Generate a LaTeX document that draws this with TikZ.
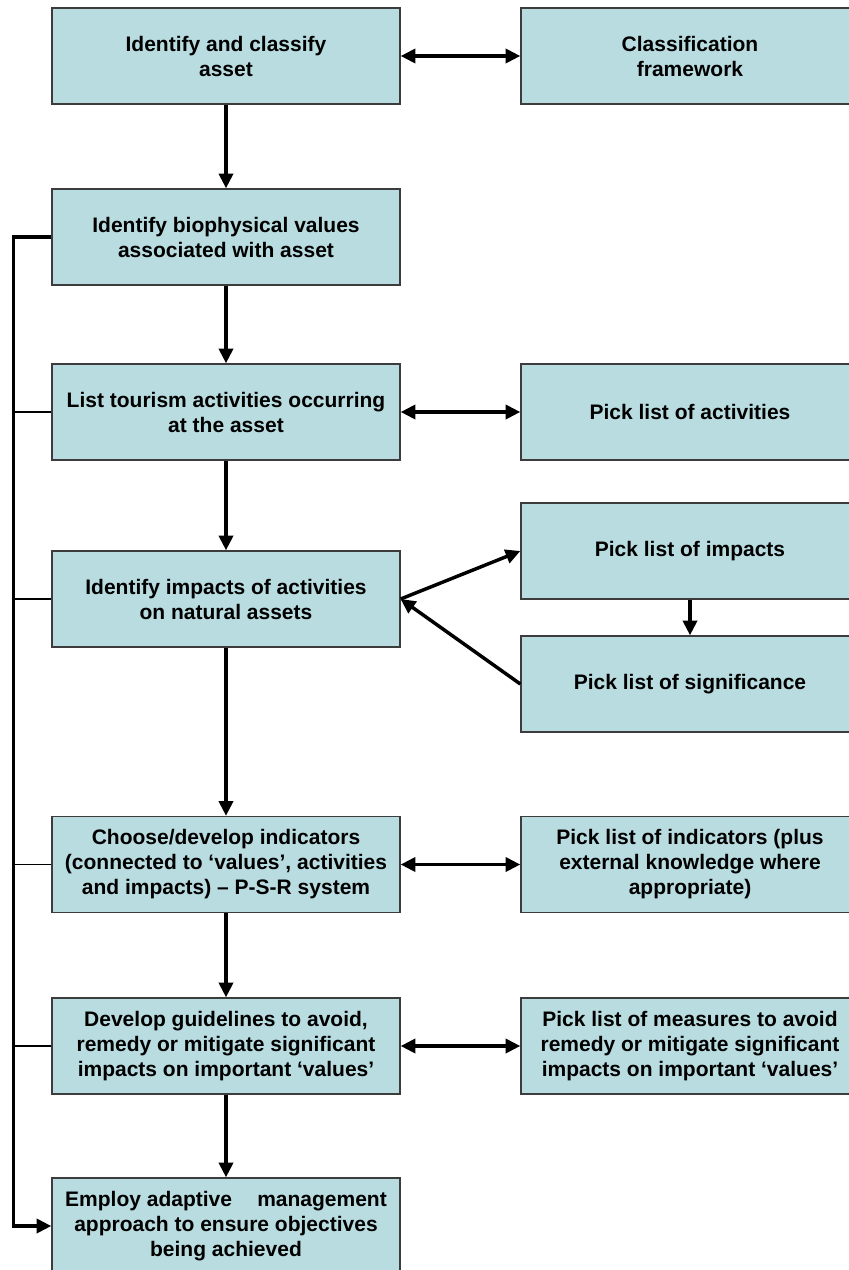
\documentclass[tikz,border=0pt]{standalone}
\usepackage{fontspec}
\setmainfont{Liberation Sans}
\usetikzlibrary{arrows.meta}
\definecolor{boxfill}{RGB}{184,220,224}
\definecolor{boxline}{RGB}{60,60,60}
\begin{document}
\begin{tikzpicture}[x=0.75pt,y=-0.75pt,
  stepbox/.style={draw=boxline, line width=1pt, fill=boxfill, align=center,
    inner sep=0pt, minimum height=96*0.75pt,
    font=\bfseries\fontsize{15.75pt}{18.75pt}\selectfont},
  leftbox/.style={stepbox, minimum width=348*0.75pt},
  rightbox/.style={stepbox, minimum width=338*0.75pt},
  tip/.tip={Triangle[length=11pt,width=10.5pt]},
  flow/.style={line width=2.6pt, -tip},
  both/.style={line width=2.6pt, tip-tip},
  tick/.style={line width=0.8pt}
]
\useasboundingbox (0,0) rectangle (849,1270);
\clip (0,0) rectangle (849,1270);

% main column
\node[leftbox] (ident)   at (226,56)   {Identify and classify\\asset};
\node[leftbox] (bio)     at (226,237)  {Identify biophysical values\\associated with asset};
\node[leftbox] (list)    at (226,412)  {List tourism activities occurring\\at the asset};
\node[leftbox] (impacts) at (226,599)  {Identify impacts of activities\\on natural assets};
\node[leftbox] (choose)  at (226,864.5){Choose/develop indicators\\(connected to ‘values’, activities\\and impacts) – P-S-R system};
\node[leftbox] (develop) at (226,1046) {Develop guidelines to avoid,\\remedy or mitigate significant\\impacts on important ‘values’};
\node[leftbox] (employ)  at (226,1226) {Employ adaptive\hspace{1.2em}management\\approach to ensure objectives\\being achieved};

% pick lists
\node[rightbox] (classfw)  at (690,56)    {Classification\\framework};
\node[rightbox] (pickact)  at (690,412)   {Pick list of activities};
\node[rightbox] (pickimp)  at (690,551)   {Pick list of impacts};
\node[rightbox] (picksig)  at (690,684)   {Pick list of significance};
\node[rightbox] (pickind)  at (690,864.5) {Pick list of indicators (plus\\external knowledge where\\appropriate)};
\node[rightbox] (pickmeas) at (690,1046)  {Pick list of measures to avoid\\remedy or mitigate significant\\impacts on important ‘values’};

% main flow
\draw[flow] (ident)   -- (bio);
\draw[flow] (bio)     -- (list);
\draw[flow] (list)    -- (impacts);
\draw[flow] (impacts) -- (choose);
\draw[flow] (choose)  -- (develop);
\draw[flow] (develop) -- (employ);

% links to pick lists
\draw[both] (ident.east)   -- (classfw.west);
\draw[both] (list.east)    -- (pickact.west);
\draw[both] (choose.east)  -- (pickind.west);
\draw[both] (develop.east) -- (pickmeas.west);
\draw[flow] (impacts.east) -- (pickimp.west);
\draw[flow] (picksig.west) -- (impacts.east);
\draw[flow] (pickimp.south -| 690,0) -- (picksig.north);

% feedback rail
\coordinate (rail) at (13.5,0);
\draw[flow] (bio.west) -- (bio.west -| rail) -- (employ.west -| rail) -- (employ.west);
\draw[tick] (list.west)    -- (list.west -| rail);
\draw[tick] (impacts.west) -- (impacts.west -| rail);
\draw[tick] (choose.west)  -- (choose.west -| rail);
\draw[tick] (develop.west) -- (develop.west -| rail);
\end{tikzpicture}
\end{document}
